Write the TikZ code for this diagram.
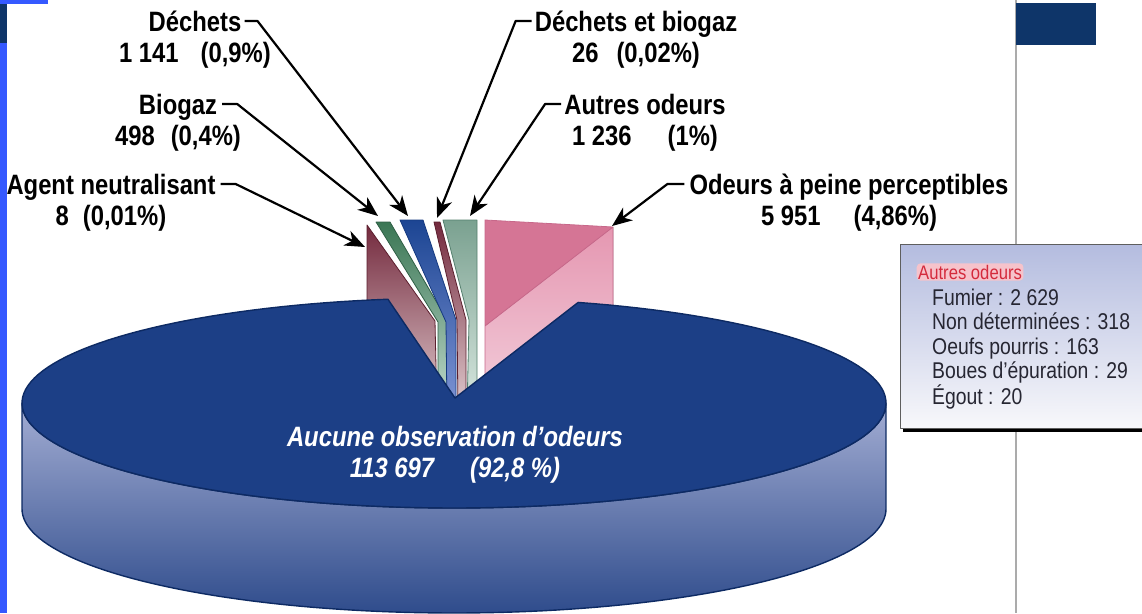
\documentclass[tikz,border=0pt]{standalone}
\usepackage{fontspec}
\setmainfont{Liberation Sans}[FakeStretch=0.85]
\usetikzlibrary{arrows.meta,positioning,shadows}
\definecolor{edgeblue}{HTML}{3559FF}
\definecolor{barnavy}{HTML}{0E3569}
\definecolor{rulegrey}{HTML}{ABABAB}
\definecolor{pienavy}{HTML}{1C3F86}
\definecolor{pieedge}{HTML}{0D2A63}
\definecolor{sidetop}{HTML}{A3ADD3}
\definecolor{sidebot}{HTML}{2F4C8C}
\definecolor{maroonedge}{HTML}{5C1F2E}
\definecolor{maroontop}{HTML}{742A3E}
\definecolor{maroonbot}{HTML}{E2CDD0}
\definecolor{greenedge}{HTML}{2F5F45}
\definecolor{greentop}{HTML}{3A7654}
\definecolor{greenbot}{HTML}{C4DDD0}
\definecolor{stripedge}{HTML}{163A80}
\definecolor{striptop}{HTML}{1C4593}
\definecolor{stripbot}{HTML}{8096D6}
\definecolor{tealedge}{HTML}{55806E}
\definecolor{tealtop}{HTML}{7AA190}
\definecolor{tealbot}{HTML}{DBE9E2}
\definecolor{pinkedge}{HTML}{C7688A}
\definecolor{pinkdark}{HTML}{D57595}
\definecolor{pinktop}{HTML}{E597B1}
\definecolor{pinkbot}{HTML}{F3CFDC}
\definecolor{legendedge}{HTML}{5E5E5E}
\definecolor{legendtop}{HTML}{B4BCDF}
\definecolor{legendbot}{HTML}{F8F8FB}
\definecolor{legendred}{HTML}{D42A3C}
\definecolor{legendglow}{HTML}{F6C3CB}
\definecolor{legendtext}{HTML}{262632}

\begin{document}
\begin{tikzpicture}[
    x=1pt, y=-1pt,
    line join=round,
    lbl/.style = {
      font=\bfseries\fontsize{28}{31}\selectfont,
      inner sep=0pt, text height=20pt, text depth=0pt,
    },
    pielabel/.style = {
      lbl, text=white,
      font=\bfseries\itshape\fontsize{28}{31}\selectfont,
    },
    leader/.style = {
      black, line width=2.2pt,
      -{Stealth[length=20pt,width=16pt,inset=6pt]},
    },
    slice/.style n args = {3}{
      draw=#1, top color=#2, bottom color=#3, line width=.8pt,
    },
    pieside/.style = {
      top color=sidetop, bottom color=sidebot,
      draw=pieedge, line width=1.4pt,
    },
    pietop/.style = {fill=pienavy, draw=pieedge, line width=1.4pt},
    legendbox/.style = {
      draw=legendedge, line width=1.2pt,
      top color=legendtop, bottom color=legendbot,
      drop shadow={shadow xshift=2.5pt, shadow yshift=-3pt, fill=black, opacity=1},
    },
    legtitle/.style = {
      text=legendred, fill=legendglow, rounded corners=4pt, inner sep=1.5pt,
      font=\fontsize{19.6}{21}\selectfont,
    },
    legitems/.style = {
      align=left, inner sep=0pt, text=legendtext,
      font=\fontsize{22.8}{24.5}\selectfont,
    },
    node distance = 11pt,
  ]
  \fill[white] (0,0) rectangle (1142,613);
  \useasboundingbox (0,0) rectangle (1142,613);

  \fill[edgeblue] (0,0) rectangle (7,613);
  \fill[edgeblue] (0,0) rectangle (48,4);
  \fill[barnavy] (0,4) rectangle (7,43);
  \draw[rulegrey, line width=1.5pt] (1016,0) -- (1016,613);
  \fill[barnavy] (1016,3) rectangle (1096,45);

  \draw[slice={maroonedge}{maroontop}{maroonbot}]
    (367,225) -- (435,321) -- (437,412) -- (367,412) -- cycle;
  \draw[slice={greenedge}{greentop}{greenbot}]
    (376,222) -- (390,222) -- (447,320) -- (447,412) -- (438,412) -- (438,322) -- cycle;
  \draw[slice={stripedge}{striptop}{stripbot}]
    (400,220) -- (423,220) -- (456,320) -- (456,412) -- (447,412) -- (446,322) -- cycle;
  \draw[slice={maroonedge}{maroontop}{maroonbot}]
    (434,222) -- (440,222) -- (466,320) -- (466,412) -- (458,412) -- (457,320) -- cycle;
  \draw[slice={tealedge}{tealtop}{tealbot}]
    (443,220) -- (477,220) -- (477,412) -- (467,412) -- (469,320) -- cycle;
  \fill[top color=pinktop, bottom color=pinkbot]
    (485,326) -- (613,227) -- (613,412) -- (485,412) -- cycle;
  \fill[pinkdark] (485,220) -- (613,227) -- (485,326) -- cycle;
  \draw[pinkedge, line width=.8pt]
    (485,220) -- (613,227) -- (613,412) -- (485,412) -- cycle (485,326) -- (613,227);

  \draw[pieside]
    plot[domain=0:180, samples=100] ({454-432*cos(\x)},{403+105*sin(\x)})
    -- plot[domain=0:180, samples=100] ({454+432*cos(\x)},{509+104*sin(\x)}) -- cycle;
  \draw[pietop] (455,398)
    -- plot[domain=98.8:433.3, samples=160] ({454+432*cos(\x)},{403-105*sin(\x)}) -- cycle;

  \node[pielabel] (Aucune) at (455,436) {Aucune observation d’odeurs};
  \node[pielabel, below=of Aucune] (AucuneV) {113~697\hspace{36pt}(92,8~\%)};

  \coordinate (AgentTip) at (365,247);
  \coordinate (BiogazTip) at (378,216);
  \coordinate (DechetsTip) at (408,216);
  \coordinate (MixteTip) at (437,218);
  \coordinate (AutresTip) at (470,216);
  \coordinate (FaiblesTip) at (612,226);

  \node[lbl] (Dechets) at (195,21) {Déchets};
  \node[lbl, below=of Dechets] (DechetsV) {1~141\hspace{22pt}(0,9\%)};
  \node[lbl] (Biogaz) at (178,104) {Biogaz};
  \node[lbl, below=of Biogaz] (BiogazV) {498\hspace{16pt}(0,4\%)};
  \node[lbl] (Agent) at (111,184) {Agent neutralisant};
  \node[lbl, below=of Agent] (AgentV) {8\hspace{14pt}(0,01\%)};
  \node[lbl] (Mixte) at (636,21) {Déchets et biogaz};
  \node[lbl, below=of Mixte] (MixteV) {26\hspace{18pt}(0,02\%)};
  \node[lbl] (Autres) at (645,104) {Autres odeurs};
  \node[lbl, below=of Autres] (AutresV) {1~236\hspace{36pt}(1\%)};
  \node[lbl] (Faibles) at (849,184) {Odeurs à peine perceptibles};
  \node[lbl, below=of Faibles] (FaiblesV) {5~951\hspace{33pt}(4,86\%)};

  \draw[leader] ([xshift=3pt]Dechets.east) -- ++(13,0) -- (DechetsTip);
  \draw[leader] ([xshift=5pt]Biogaz.east) -- ++(15,0) -- (BiogazTip);
  \draw[leader] ([xshift=5pt]Agent.east) -- ++(15,0) -- (AgentTip);
  \draw[leader] ([xshift=-3pt]Mixte.west) -- ++(-16,0) -- (MixteTip);
  \draw[leader] ([xshift=-3pt]Autres.west) -- ++(-16,0) -- (AutresTip);
  \draw[leader] ([xshift=-5pt]Faibles.west) -- ++(-17,0) -- (FaiblesTip);

  \node[legendbox, anchor=north west, minimum width=260pt, minimum height=184pt]
    (Legend) at (900,244) {};
  \node[legtitle, anchor=west] (LegTitle) at (916.5,272) {Autres odeurs};
  \node[legitems, anchor=west] (LegItems) at (932,349)
    {Fumier : 2~629\\Non déterminées : 318\\Oeufs pourris : 163\\Boues d’épuration : 29\\Égout : 20};
\end{tikzpicture}
\end{document}
